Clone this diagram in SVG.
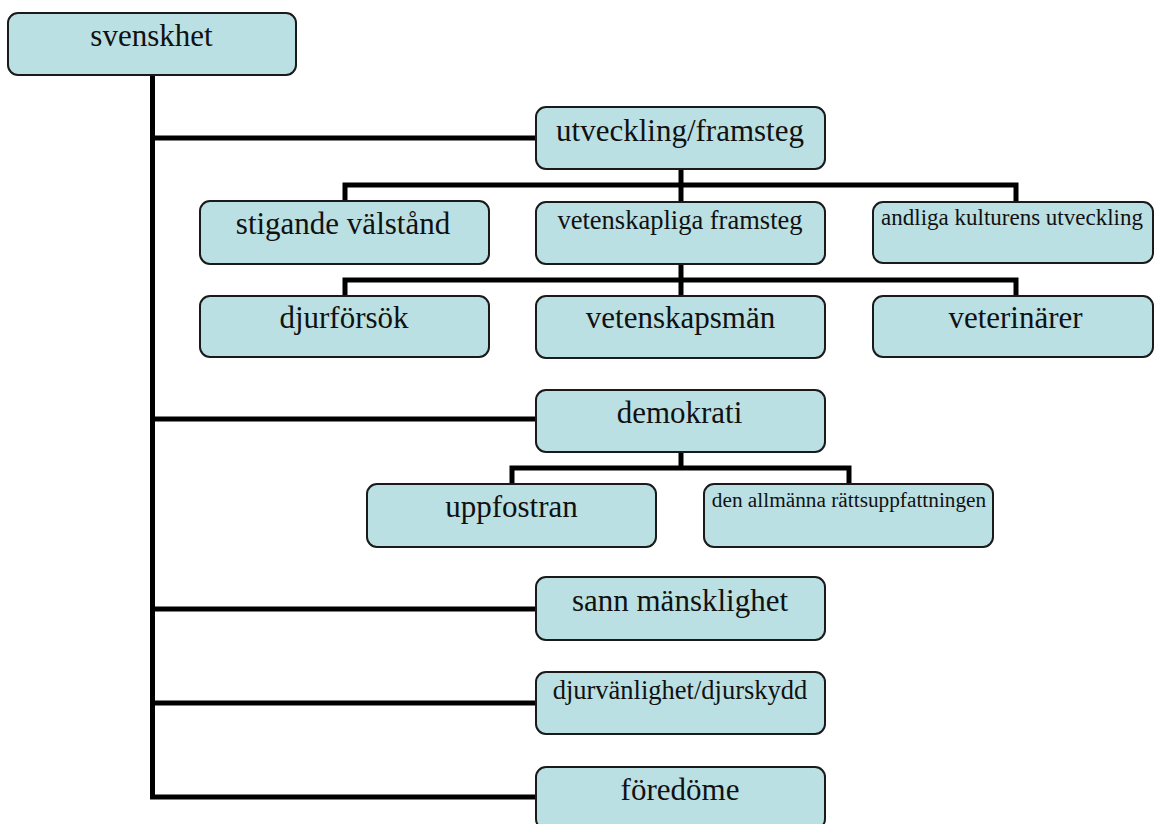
<svg xmlns="http://www.w3.org/2000/svg" width="1155" height="824" viewBox="0 0 1155 824">
<style>
.box{fill:#BBE0E3;stroke:#1a1a1a;stroke-width:2}
.lbl{font-family:'Liberation Serif','Times New Roman',serif;fill:#111;text-anchor:middle}
.big{font-size:31px}
.mid{font-size:26.5px}
.sm{font-size:21.3px}
.con{fill:none;stroke:#000;stroke-width:5;stroke-linejoin:miter}
</style>
<rect width="1155" height="824" fill="#fff"/>
<g id="connectors">
<path class="con" d="M152.5 75 V797 H536"/>
<path class="con" d="M152.5 138 H536"/>
<path class="con" d="M152.5 419 H536"/>
<path class="con" d="M152.5 609 H536"/>
<path class="con" d="M152.5 703 H536"/>
<path class="con" d="M681 169 V202"/>
<path class="con" d="M345 202 V185 H1016 V202"/>
<path class="con" d="M681 264 V296"/>
<path class="con" d="M345 296 V280 H1016 V296"/>
<path class="con" d="M681 452 V468"/>
<path class="con" d="M512 484 V468 H849 V484"/>
</g>
<g id="n-svenskhet"><rect class="box" x="8" y="13" width="288" height="62" rx="10"/><text class="lbl big" x="151.5" y="46">svenskhet</text></g>
<g id="n-utveckling"><rect class="box" x="536" y="107" width="289" height="62" rx="10"/><text class="lbl big" x="680" y="141">utveckling/framsteg</text></g>
<g id="n-stigande"><rect class="box" x="200" y="201" width="289" height="63" rx="10"/><text class="lbl big" x="343" y="234">stigande välstånd</text></g>
<g id="n-vetenskapliga"><rect class="box" x="536" y="202" width="289" height="62" rx="10"/><text class="lbl mid" x="680" y="229">vetenskapliga framsteg</text></g>
<g id="n-andliga"><rect class="box" x="873" y="202" width="280" height="61" rx="10"/><text class="lbl" style="font-size:23px" x="1012" y="225">andliga kulturens utveckling</text></g>
<g id="n-djurforsok"><rect class="box" x="200" y="296" width="289" height="61" rx="10"/><text class="lbl big" x="344" y="328">djurförsök</text></g>
<g id="n-vetenskapsman"><rect class="box" x="536" y="296" width="289" height="62" rx="10"/><text class="lbl big" x="680.5" y="328">vetenskapsmän</text></g>
<g id="n-veterinarer"><rect class="box" x="873" y="296" width="280" height="61" rx="10"/><text class="lbl big" x="1015.5" y="328">veterinärer</text></g>
<g id="n-demokrati"><rect class="box" x="536" y="390" width="289" height="62" rx="10"/><text class="lbl big" x="679.5" y="423">demokrati</text></g>
<g id="n-uppfostran"><rect class="box" x="367" y="484" width="289" height="63" rx="10"/><text class="lbl big" x="511.5" y="517">uppfostran</text></g>
<g id="n-rattsuppfattningen"><rect class="box" x="704" y="484" width="289" height="63" rx="10"/><text class="lbl sm" x="849" y="507">den allmänna rättsuppfattningen</text></g>
<g id="n-sann"><rect class="box" x="536" y="577" width="289" height="63" rx="10"/><text class="lbl big" x="680" y="611">sann mänsklighet</text></g>
<g id="n-djurvanlighet"><rect class="box" x="536" y="672" width="289" height="62" rx="10"/><text class="lbl mid" x="680" y="699">djurvänlighet/djurskydd</text></g>
<g id="n-foredome"><rect class="box" x="536" y="767" width="289" height="62" rx="10"/><text class="lbl big" x="680" y="800">föredöme</text></g>
</svg>
